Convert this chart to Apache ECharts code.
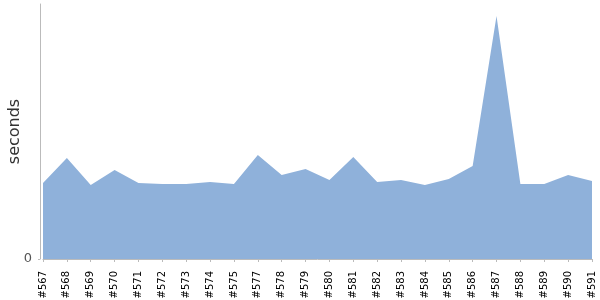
<!DOCTYPE html>
<html>
<head>
<meta charset="utf-8">
<script src="https://cdn.jsdelivr.net/npm/echarts@6/dist/echarts.min.js"></script>
<style>html,body{margin:0;padding:0;background:#fff}#c{width:600px;height:300px}</style>
</head>
<body>
<div id="c"></div>
<script>
var categories = ['#567','#568','#569','#570','#571','#572','#573','#574','#575','#577','#578','#579','#580','#581','#582','#583','#584','#585','#586','#587','#588','#589','#590','#591'];
var seconds = [76, 101, 74, 89, 76, 75, 75, 77, 75, 104, 84, 90, 79, 102, 77, 79, 74, 80, 93, 243, 75, 75, 84, 78];
var yMax = 255;

var chart = echarts.init(document.getElementById('c'), null, {renderer: 'canvas'});
chart.setOption({
  animation: false,
  grid: {left: 43, right: 8, top: 4, bottom: 41, containLabel: false, outerBoundsMode: 'none'},
  xAxis: {
    type: 'category',
    data: categories,
    boundaryGap: false,
    offset: 4,
    axisLine: {lineStyle: {color: '#bbb', width: 1}},
    axisTick: {alignWithLabel: true, length: 3, lineStyle: {color: '#bbb'}, interval: 0},
    axisLabel: {rotate: 90, interval: 0, color: '#000', fontSize: 10, fontFamily: 'DejaVu Sans', margin: 8}
  },
  yAxis: {
    type: 'value',
    min: 0,
    max: yMax,
    interval: yMax,
    offset: 3,
    name: 'seconds',
    nameLocation: 'middle',
    nameGap: 17,
    nameMoveOverlap: false,
    nameTextStyle: {color: '#333', fontSize: 16, fontFamily: 'DejaVu Sans'},
    axisLine: {show: true, lineStyle: {color: '#bbb', width: 1}},
    axisTick: {show: true, length: 2, customValues: [0], lineStyle: {color: '#bbb'}},
    splitLine: {show: false},
    axisLabel: {color: '#555', fontSize: 13, fontFamily: 'DejaVu Sans', margin: 8, customValues: [0],
      formatter: function (v) { return v === 0 ? '0' : ''; }}
  },
  series: [{
    type: 'line',
    data: seconds,
    symbol: 'none',
    lineStyle: {width: 0},
    areaStyle: {color: '#8FB1DA', opacity: 1}
  }]
});
</script>
</body>
</html>
